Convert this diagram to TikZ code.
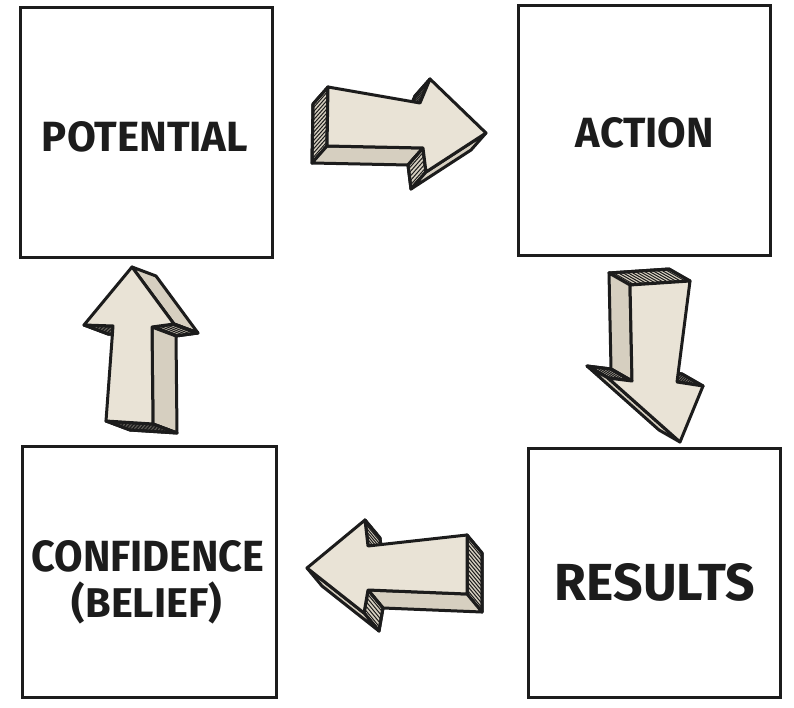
\documentclass[tikz,border=0pt]{standalone}
\usepackage{fontspec}
\setmainfont{Fira Sans}
\usetikzlibrary{calc}
\definecolor{front}{RGB}{233,227,214}
\definecolor{side}{RGB}{214,207,192}
\definecolor{ink}{RGB}{28,28,28}
\tikzset{
  box/.style={draw=ink, line width=3pt, fill=white, inner sep=0pt},
  lbl/.style={font=\bfseries, text=ink, inner sep=0pt},
  frontface/.style={draw=ink, line width=3pt, line join=round, fill=front},
  sideface/.style={draw=ink, line width=3pt, line join=round, fill=side},
  hline/.style={draw=ink, line width=1pt},
  outline/.style={draw=ink, line width=3pt, line join=round},
}
% plain side face: style, P, Q, offset
\newcommand{\sidequad}[3]{\path[sideface] (#1) -- (#2) -- ($(#2)+(#3)$) -- ($(#1)+(#3)$) -- cycle;}
% hatched side face: P, Q, offset, number of hatch lines
\newcommand{\hquad}[4]{%
  \path[sideface] (#1) -- (#2) -- ($(#2)+(#3)$) -- ($(#1)+(#3)$) -- cycle;
  \foreach \k in {1,...,#4}{\draw[hline] ($(#1)!{\k/(#4+1)}!(#2)$) -- ($(#1)!{\k/(#4+1)}!(#2)+(#3)$);}
  \path[outline] (#1) -- (#2) -- ($(#2)+(#3)$) -- ($(#1)+(#3)$) -- cycle;}
\begin{document}
\begin{tikzpicture}[x=1pt,y=-1pt]
\useasboundingbox (0,0) rectangle (794,708);
\fill[white] (0,0) rectangle (794,708);

% boxes
\node[box, minimum width=252pt, minimum height=250pt] (potential) at (146,133) {};
\node[box, minimum width=252pt, minimum height=250pt] (action) at (644,131) {};
\node[box, minimum width=254pt, minimum height=251pt] (confidence) at (149,571.5) {};
\node[box, minimum width=252pt, minimum height=249pt] (results) at (654,572.5) {};

\node[lbl] (tpot) at (145,137) {\resizebox{206pt}{30pt}{POTENTIAL}};
\node[lbl] (tact) at (645,133) {\resizebox{138pt}{30pt}{ACTION}};
\node[lbl] (tres) at (655,582) {\resizebox{200pt}{37pt}{RESULTS}};
\node[lbl] (tconf) at (148,556) {\resizebox{233pt}{31pt}{CONFIDENCE}};
\node[lbl] (tbel) at (147,603) {\resizebox{150pt}{!}{(BELIEF)}};

% top arrow (right)
\coordinate (dA) at (-15,17);
\coordinate (a1) at (328,87);
\coordinate (a2) at (420,103);
\coordinate (a3) at (430,79);
\coordinate (a4) at (486,133);
\coordinate (a5) at (426,172);
\coordinate (a6) at (423,148);
\coordinate (a7) at (327,146);
\hquad{a1}{a7}{dA}{13}
\sidequad{a7}{a6}{dA}
\hquad{a6}{a5}{dA}{5}
\sidequad{a5}{a4}{dA}
\hquad{a2}{a3}{dA}{6}
\path[frontface] (a1)--(a2)--(a3)--(a4)--(a5)--(a6)--(a7)--cycle;

% down arrow
\coordinate (dB) at (-21,-12);
\coordinate (b1) at (630,285);
\coordinate (b2) at (690,281);
\coordinate (b3) at (677,382);
\coordinate (b4) at (703,386);
\coordinate (b5) at (680,442);
\coordinate (b6) at (608,378);
\coordinate (b7) at (632,381);
\hquad{b1}{b2}{dB}{13}
\sidequad{b7}{b1}{dB}
\hquad{b6}{b7}{dB}{5}
\sidequad{b5}{b6}{dB}
\hquad{b3}{b4}{dB}{6}
\path[frontface] (b1)--(b2)--(b3)--(b4)--(b5)--(b6)--(b7)--cycle;

% up arrow
\coordinate (dC) at (24,9);
\coordinate (c1) at (132,267);
\coordinate (c2) at (174,324);
\coordinate (c3) at (152,327);
\coordinate (c4) at (153,424);
\coordinate (c5) at (106,421);
\coordinate (c6) at (113,326);
\coordinate (c7) at (84,325);
\sidequad{c1}{c2}{dC}
\hquad{c2}{c3}{dC}{5}
\sidequad{c3}{c4}{dC}
\hquad{c4}{c5}{dC}{10}
\hquad{c6}{c7}{dC}{6}
\path[frontface] (c1)--(c2)--(c3)--(c4)--(c5)--(c6)--(c7)--cycle;

% left arrow
\coordinate (dD) at (15,18);
\coordinate (e1) at (307,568);
\coordinate (e2) at (365,520);
\coordinate (e3) at (368,546);
\coordinate (e4) at (467,535);
\coordinate (e5) at (467,594);
\coordinate (e6) at (368,590);
\coordinate (e7) at (364,613);
\hquad{e2}{e3}{dD}{6}
\hquad{e4}{e5}{dD}{13}
\sidequad{e5}{e6}{dD}
\hquad{e6}{e7}{dD}{5}
\sidequad{e7}{e1}{dD}
\path[frontface] (e1)--(e2)--(e3)--(e4)--(e5)--(e6)--(e7)--cycle;
\end{tikzpicture}
\end{document}
